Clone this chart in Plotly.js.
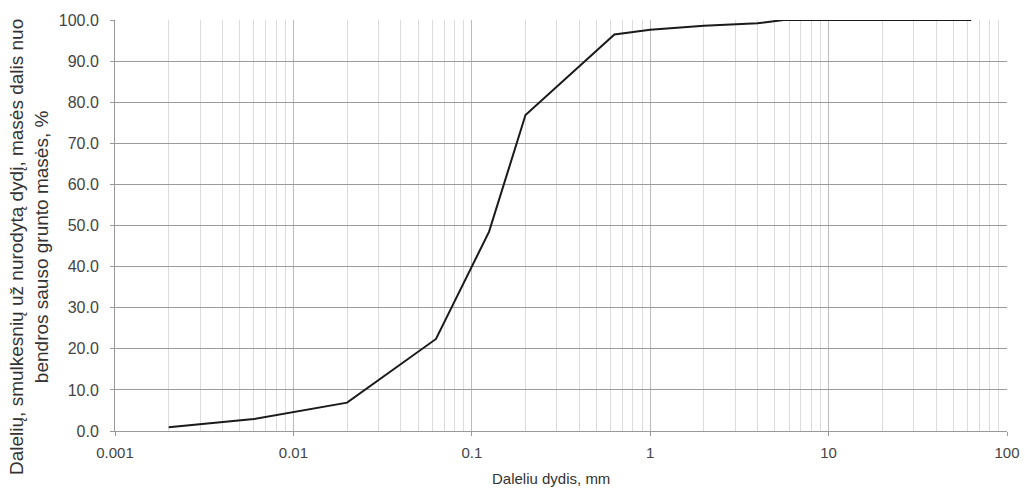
<!DOCTYPE html>
<html>
<head>
<meta charset="utf-8">
<script src="https://cdn.plot.ly/plotly-3.0.1.min.js"></script>
<style>html,body{margin:0;padding:0;background:#fff;}#chart{width:1025px;height:488px;}</style>
</head>
<body>
<div id="chart"></div>
<script>
// Particle size, mm
const particleSize = [0.002, 0.004, 0.006, 0.02, 0.063, 0.125, 0.2, 0.63, 1, 2, 4, 5.6, 8, 16, 31.5, 63];
// Passing percentage, %
const passingPercent = [0.9, 2.1, 2.9, 6.9, 22.4, 48.5, 76.9, 96.5, 97.6, 98.6, 99.2, 100, 100, 100, 100, 100];
const xTickValues = [0.001, 0.01, 0.1, 1, 10, 100];
const xTickLabels = ["0.001", "0.01", "0.1", "1", "10", "100"];
const yTickValues = [0, 10, 20, 30, 40, 50, 60, 70, 80, 90, 100];
const xTitle = "Daleliu dydis, mm";
const yTitle = "Dalelių, smulkesnių už nurodytą dydį, masės dalis nuo<br>bendros sauso grunto masės, %";

const fam = "Liberation Sans, Arial, sans-serif";

Plotly.newPlot("chart", [{
  x: particleSize,
  y: passingPercent,
  type: "scatter",
  mode: "lines",
  line: {color: "#1a1a1a", width: 2},
  hoverinfo: "x+y"
}], {
  width: 1025, height: 488,
  margin: {l: 115, r: 18, t: 20, b: 57},
  paper_bgcolor: "#fff", plot_bgcolor: "#fff",
  font: {family: fam, size: 15, color: "#444"},
  showlegend: false,
  xaxis: {
    type: "log",
    range: [-3, 2],
    tickvals: xTickValues,
    ticktext: xTickLabels,
    showgrid: true,
    gridcolor: "#bcbcbc",
    gridwidth: 1,
    minor: {showgrid: true, gridcolor: "#dcdcdc", gridwidth: 1, dtick: "D1"},
    showline: true, linecolor: "#999", mirror: false,
    ticks: "outside", ticklen: 4, tickcolor: "#999",
    ticklabelstandoff: 4,
    zeroline: false,
    tickfont: {family: fam, size: 15, color: "#444"}
  },
  yaxis: {
    range: [0, 100],
    tickvals: yTickValues,
    tickformat: ".1f",
    showgrid: true,
    gridcolor: "#9a9a9a",
    gridwidth: 1,
    showline: true, linecolor: "#999",
    ticks: "outside", ticklen: 4, tickcolor: "#999",
    ticklabelstandoff: 8,
    zeroline: false,
    tickfont: {family: fam, size: 16, color: "#444"}
  },
  annotations: [
    {text: xTitle, xref: "paper", yref: "paper", x: 0.5, y: 0, xshift: -10, yshift: -47,
     xanchor: "center", yanchor: "middle", showarrow: false,
     font: {family: fam, size: 15, color: "#333"}},
    {text: yTitle, xref: "paper", yref: "paper", x: 0, y: 0.4477, xshift: -86,
     xanchor: "center", yanchor: "middle", textangle: -90, showarrow: false,
     font: {family: fam, size: 19, color: "#333"}}
  ]
}, {displayModeBar: false, staticPlot: true});
</script>
</body>
</html>
